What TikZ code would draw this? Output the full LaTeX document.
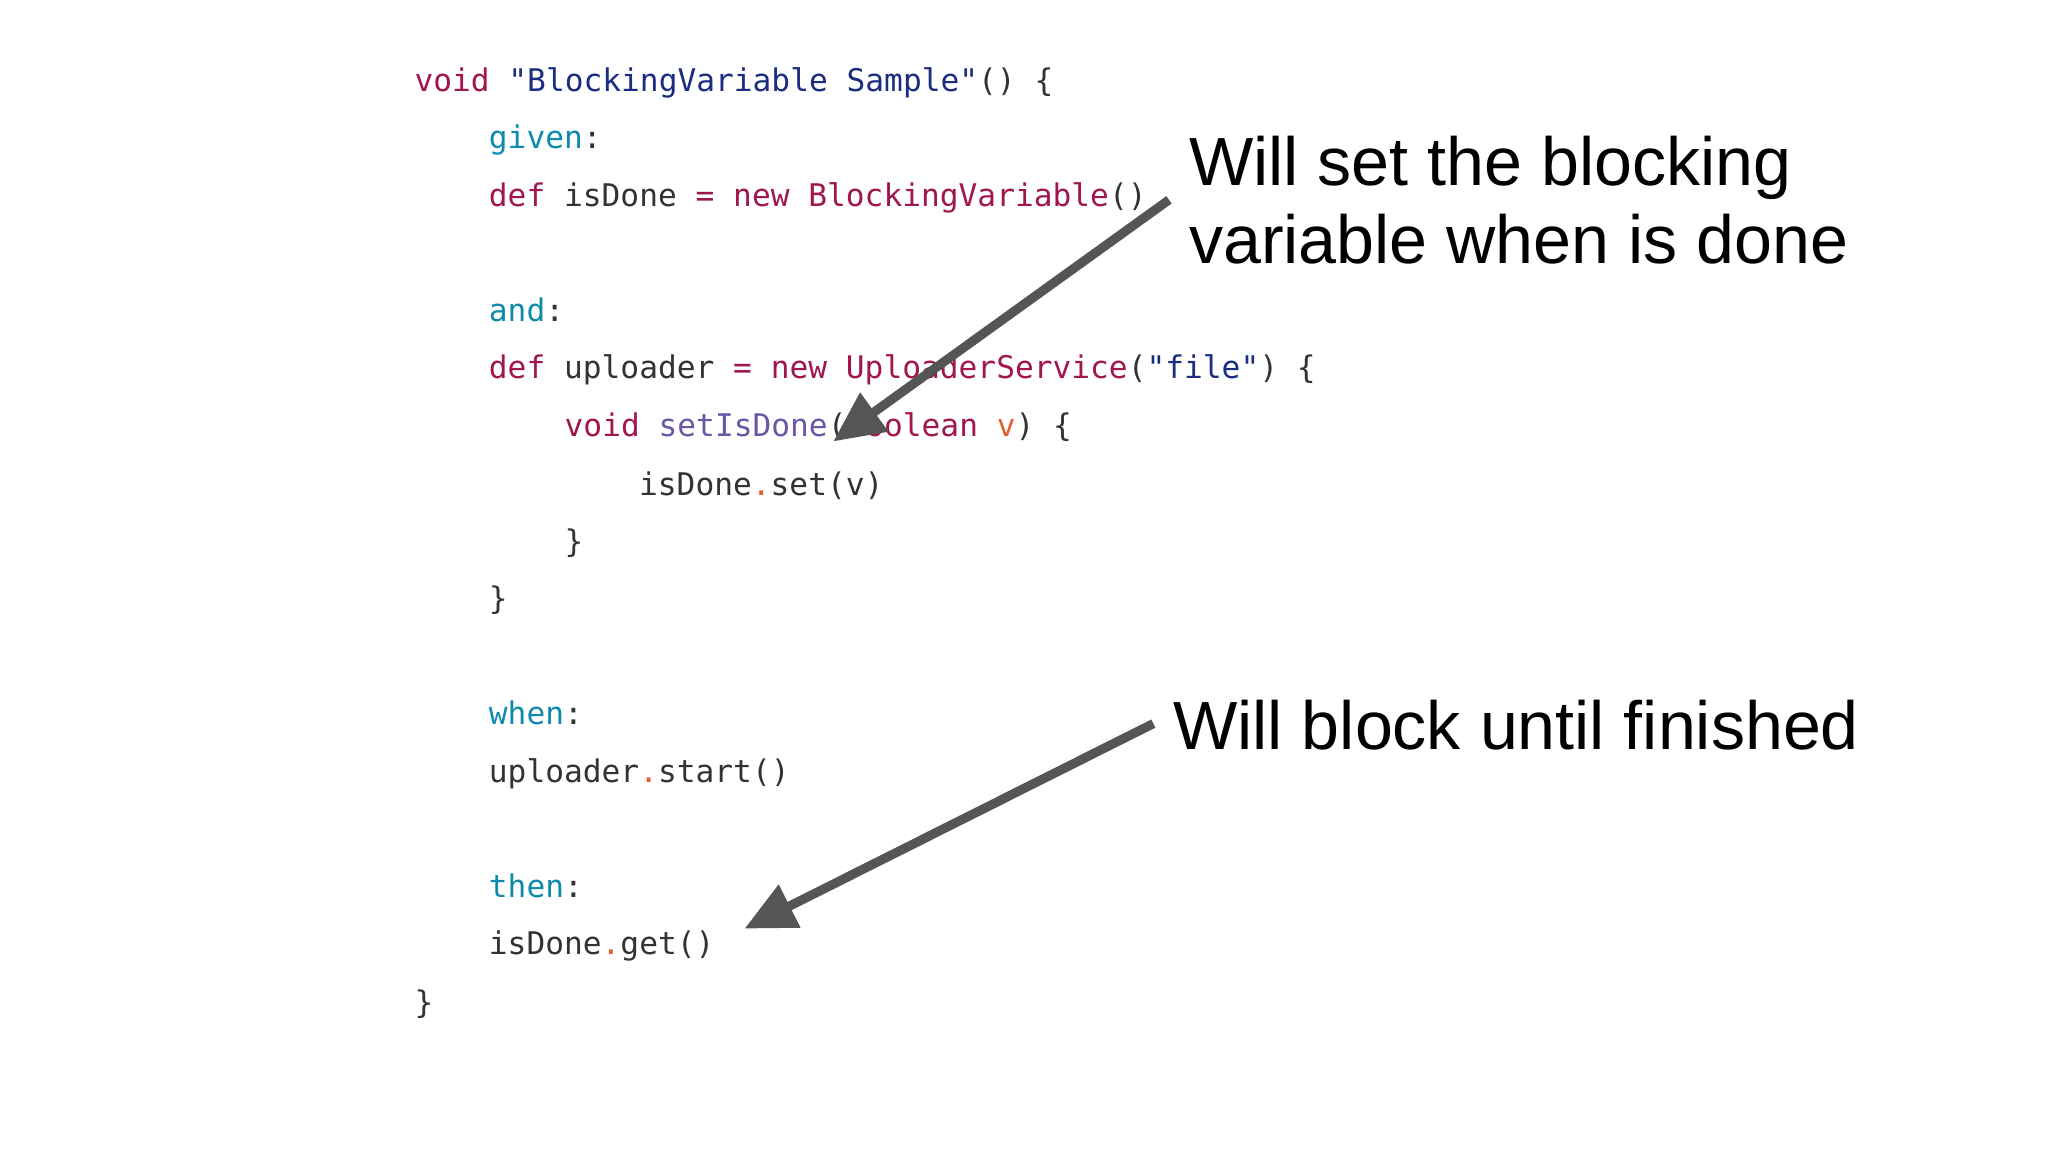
\documentclass[tikz,border=0pt]{standalone}
\usepackage{fontspec}
\setmainfont{Liberation Sans}
\newfontfamily\codefont{DejaVu Sans Mono}
\usetikzlibrary{arrows.meta}
\definecolor{kw}{HTML}{A0174F}
\definecolor{lbl}{HTML}{0F8AAD}
\definecolor{str}{HTML}{1A2D80}
\definecolor{mth}{HTML}{6B57A3}
\definecolor{prm}{HTML}{E0602F}
\definecolor{txt}{HTML}{333333}
\definecolor{arr}{HTML}{555555}
\newcommand{\cK}[1]{\textcolor{kw}{#1}}
\newcommand{\cL}[1]{\textcolor{lbl}{#1}}
\newcommand{\cS}[1]{\textcolor{str}{#1}}
\newcommand{\cM}[1]{\textcolor{mth}{#1}}
\newcommand{\cP}[1]{\textcolor{prm}{#1}}
\begin{document}
\begin{tikzpicture}[x=0.02cm,y=-0.02cm,
  code/.style={anchor=base west,inner sep=0,text=txt,font=\codefont\fontsize{13.6}{16}\selectfont},
  note/.style={anchor=base west,inner sep=0,text=black,font=\fontsize{29.7}{34}\selectfont},
  pointer/.style={draw=arr,line width=4pt,-{Triangle[length=22pt,width=20pt]}}]
\useasboundingbox (0,0) rectangle (1568,882);
\node[code] (l1) at (317,70) {\cK{void} \cS{"BlockingVariable Sample"}() \{};
\node[code] (l2) at (374,114) {\cL{given}:};
\node[code] (l3) at (374,158) {\cK{def} isDone \cK{=} \cK{new} \cK{BlockingVariable}()};
\node[code] (l4) at (374,246) {\cL{and}:};
\node[code] (l5) at (374,290) {\cK{def} uploader \cK{=} \cK{new} \cK{UploaderService}(\cS{"file"}) \{};
\node[code] (l6) at (432,334) {\cK{void} \cM{setIsDone}(\cK{boolean} \cP{v}) \{};
\node[code] (l7) at (489,379) {isDone\cP{.}set(v)};
\node[code] (l8) at (432,423) {\}};
\node[code] (l9) at (374,467) {\}};
\node[code] (l10) at (374,555) {\cL{when}:};
\node[code] (l11) at (374,599) {uploader\cP{.}start()};
\node[code] (l12) at (374,687) {\cL{then}:};
\node[code] (l13) at (374,731) {isDone\cP{.}get()};
\node[code] (l14) at (317,776) {\}};
\node[note] (n1) at (910,142) {Will set the blocking};
\node[note] (n1b) at (910,202) {variable when is done};
\node[note] (n2) at (898,574) {Will block until finished};
\coordinate (a1s) at (895,153);
\coordinate (a1e) at (638,338);
\coordinate (a2s) at (883,554);
\coordinate (a2e) at (570,711);
\draw[pointer] (a1s) -- (a1e);
\draw[pointer] (a2s) -- (a2e);
\end{tikzpicture}
\end{document}
